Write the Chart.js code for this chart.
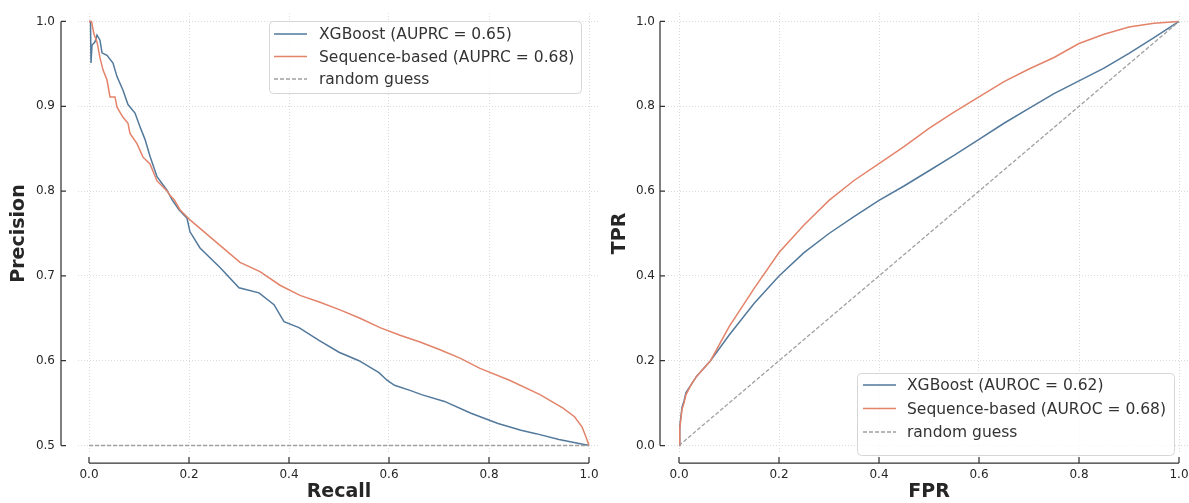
<!DOCTYPE html>
<html>
<head>
<meta charset="utf-8">
<script src="https://cdn.jsdelivr.net/npm/chart.js@4.4.1/dist/chart.umd.min.js"></script>
<style>
  body { margin: 0; background: #fff; width: 1189px; height: 503px; position: relative; overflow: hidden; }
  .box { position: absolute; top: 0; height: 503px; }
  #prBox { left: 0; width: 615px; }
  #rocBox { left: 600px; width: 600px; }
</style>
</head>
<body>
<div class="box" id="prBox"><canvas id="prChart"></canvas></div>
<div class="box" id="rocBox"><canvas id="rocChart"></canvas></div>
<script>
// precision-recall curves
const prXgbRecall = [0, 0.003, 0.004, 0.006, 0.012, 0.016, 0.022, 0.026, 0.036, 0.048, 0.056, 0.068, 0.078, 0.092, 0.102, 0.112, 0.122, 0.136, 0.156, 0.166, 0.18, 0.196, 0.202, 0.222, 0.262, 0.3, 0.34, 0.37, 0.39, 0.42, 0.46, 0.5, 0.54, 0.58, 0.596, 0.611, 0.642, 0.665, 0.711, 0.764, 0.818, 0.864, 0.894, 0.94, 1.0];
const prXgbPrecision = [1.0, 1.0, 0.951, 0.972, 0.976, 0.984, 0.978, 0.963, 0.96, 0.951, 0.935, 0.919, 0.902, 0.892, 0.876, 0.861, 0.841, 0.817, 0.801, 0.79, 0.778, 0.768, 0.752, 0.733, 0.71, 0.686, 0.68, 0.666, 0.646, 0.639, 0.624, 0.61, 0.6, 0.586, 0.577, 0.571, 0.565, 0.56, 0.552, 0.538, 0.526, 0.518, 0.514, 0.507, 0.5];
const prSeqRecall = [0, 0.005, 0.01, 0.016, 0.022, 0.028, 0.036, 0.042, 0.052, 0.056, 0.068, 0.078, 0.082, 0.096, 0.108, 0.122, 0.136, 0.156, 0.162, 0.17, 0.182, 0.202, 0.222, 0.262, 0.302, 0.342, 0.382, 0.422, 0.462, 0.502, 0.542, 0.582, 0.622, 0.662, 0.702, 0.742, 0.782, 0.841, 0.902, 0.948, 0.971, 0.986, 0.994, 1.0];
const prSeqPrecision = [1.0, 1.0, 0.985, 0.976, 0.957, 0.943, 0.931, 0.911, 0.911, 0.899, 0.887, 0.88, 0.868, 0.856, 0.84, 0.832, 0.812, 0.8, 0.795, 0.79, 0.778, 0.766, 0.756, 0.736, 0.716, 0.705, 0.689, 0.677, 0.669, 0.66, 0.65, 0.639, 0.63, 0.622, 0.613, 0.603, 0.591, 0.577, 0.56, 0.544, 0.534, 0.522, 0.51, 0.5];
const prGuessX = [0, 1];
const prGuessY = [0.5, 0.5];

// ROC curves
const rocXgbFpr = [0, 0.0015, 0.006, 0.01, 0.014, 0.025, 0.035, 0.063, 0.1, 0.15, 0.2, 0.25, 0.3, 0.35, 0.4, 0.45, 0.5, 0.55, 0.6, 0.65, 0.7, 0.75, 0.8, 0.85, 0.9, 0.95, 1.0];
const rocXgbTpr = [0, 0.045, 0.09, 0.105, 0.125, 0.145, 0.163, 0.2, 0.26, 0.335, 0.4, 0.455, 0.5, 0.54, 0.578, 0.612, 0.648, 0.684, 0.722, 0.76, 0.795, 0.83, 0.86, 0.89, 0.925, 0.962, 1.0];
const rocSeqFpr = [0, 0.0015, 0.006, 0.01, 0.014, 0.025, 0.035, 0.063, 0.1, 0.15, 0.2, 0.25, 0.3, 0.35, 0.4, 0.45, 0.5, 0.55, 0.6, 0.65, 0.7, 0.75, 0.8, 0.85, 0.9, 0.95, 1.0];
const rocSeqTpr = [0, 0.04, 0.085, 0.1, 0.12, 0.145, 0.163, 0.2, 0.28, 0.37, 0.455, 0.52, 0.578, 0.625, 0.665, 0.705, 0.748, 0.786, 0.822, 0.858, 0.888, 0.915, 0.948, 0.97, 0.987, 0.996, 1.0];
const rocGuessX = [0, 1];
const rocGuessY = [0, 1];

const prLabels = ["XGBoost (AUPRC = 0.65)", "Sequence-based (AUPRC = 0.68)", "random guess"];
const rocLabels = ["XGBoost (AUROC = 0.62)", "Sequence-based (AUROC = 0.68)", "random guess"];
const unitTicks = [0, 0.2, 0.4, 0.6, 0.8, 1.0];
const precisionTicks = [0.5, 0.6, 0.7, 0.8, 0.9, 1.0];

const FONT = "'DejaVu Sans', 'Liberation Sans', sans-serif";
const BLUE = "#52799b";
const ORANGE = "#e3836a";
const GREY = "#a0a0a0";
const INK = "#262626";

function points(xs, ys) {
  return xs.map((x, i) => ({ x: x, y: ys[i] }));
}

// offset, trimmed spines with inward ticks (seaborn despine look)
const spines = {
  id: "spines",
  afterDraw(chart, args, opts) {
    const { ctx } = chart;
    const x = chart.scales.x, y = chart.scales.y;
    ctx.save();
    ctx.strokeStyle = "#333";
    ctx.lineWidth = 1.25;
    ctx.beginPath();
    ctx.moveTo(opts.leftX, y.getPixelForValue(opts.yFrom));
    ctx.lineTo(opts.leftX, y.getPixelForValue(opts.yTo));
    for (const t of y.ticks) {
      const py = y.getPixelForValue(t.value);
      ctx.moveTo(opts.leftX, py);
      ctx.lineTo(opts.leftX + 5, py);
    }
    ctx.moveTo(x.getPixelForValue(0), opts.bottomY);
    ctx.lineTo(x.getPixelForValue(1), opts.bottomY);
    for (const t of x.ticks) {
      const px = x.getPixelForValue(t.value);
      ctx.moveTo(px, opts.bottomY);
      ctx.lineTo(px, opts.bottomY - 6);
    }
    ctx.stroke();
    ctx.restore();
  }
};

// matplotlib-like legend box inside the axes
const boxLegend = {
  id: "boxLegend",
  afterDraw(chart, args, opts) {
    const { ctx } = chart;
    const { left, top, width, height } = opts;
    ctx.save();
    ctx.beginPath();
    ctx.roundRect(left + 0.5, top + 0.5, width, height, 4);
    ctx.fillStyle = "rgba(255,255,255,0.8)";
    ctx.fill();
    ctx.strokeStyle = "#d6d6d6";
    ctx.lineWidth = 1;
    ctx.stroke();
    ctx.font = "15.5px " + FONT;
    ctx.textBaseline = "middle";
    chart.data.datasets.forEach((ds, i) => {
      const ry = top + opts.firstRow + i * opts.rowGap;
      ctx.beginPath();
      ctx.setLineDash(ds.borderDash || []);
      ctx.strokeStyle = ds.borderColor;
      ctx.lineWidth = ds.borderWidth;
      ctx.moveTo(left + opts.handleX, ry);
      ctx.lineTo(left + opts.handleX + 33, ry);
      ctx.stroke();
      ctx.setLineDash([]);
      ctx.fillStyle = "#333";
      ctx.fillText(ds.label, left + opts.textX, ry + 1);
    });
    ctx.restore();
  }
};

function makeChart(id, cfg) {
  const tickFont = { family: FONT, size: 12 };
  const titleFont = { family: FONT, size: 19, weight: "bold" };
  // invisible tick marks are used only to push the labels away from the plot area
  const hiddenTick = "rgba(0,0,0,0)";
  return new Chart(document.getElementById(id), {
    type: "scatter",
    data: {
      datasets: [
        { label: cfg.labels[0], data: cfg.series[0], borderColor: BLUE, borderWidth: 1.5, order: 2 },
        { label: cfg.labels[1], data: cfg.series[1], borderColor: ORANGE, borderWidth: 1.5, order: 1 },
        { label: cfg.labels[2], data: cfg.series[2], borderColor: GREY, borderWidth: 1.3, borderDash: [4, 2], order: 0 }
      ].map(d => Object.assign(d, { showLine: true, pointRadius: 0, tension: 0, fill: false }))
    },
    options: {
      responsive: true,
      maintainAspectRatio: false,
      animation: false,
      events: [],
      layout: { padding: cfg.padding },
      plugins: {
        legend: { display: false },
        tooltip: { enabled: false },
        spines: cfg.spines,
        boxLegend: cfg.legend
      },
      scales: {
        x: {
          type: "linear",
          min: -0.022, max: 1.022,
          afterFit: s => { s.height = 49; },
          afterBuildTicks: s => { s.ticks = unitTicks.map(v => ({ value: v })); },
          grid: { color: "#d2d2d2", lineWidth: 0.8, drawTicks: true, tickLength: 14, tickColor: hiddenTick },
          border: { display: false, dash: [1, 2] },
          ticks: { padding: 0, color: INK, font: tickFont, maxRotation: 0, autoSkip: false, callback: v => v.toFixed(1) },
          title: { display: true, text: cfg.xTitle, color: INK, font: titleFont, padding: { top: 0, bottom: 0 } }
        },
        y: {
          type: "linear",
          min: cfg.yMin, max: cfg.yMax,
          afterFit: s => { s.width = cfg.yWidth; },
          afterBuildTicks: s => { s.ticks = cfg.yTicks.map(v => ({ value: v })); },
          grid: { color: "#d2d2d2", lineWidth: 0.8, drawTicks: true, tickLength: cfg.yTickPad, tickColor: hiddenTick },
          border: { display: false, dash: [1, 2] },
          ticks: { padding: 0, color: INK, font: tickFont, autoSkip: false, callback: v => v.toFixed(1) },
          title: { display: true, text: cfg.yTitle, color: INK, font: titleFont, padding: { top: cfg.yTitlePad, bottom: 0 } }
        }
      }
    },
    plugins: [spines, boxLegend]
  });
}

makeChart("prChart", {
  labels: prLabels,
  series: [points(prXgbRecall, prXgbPrecision), points(prSeqRecall, prSeqPrecision), points(prGuessX, prGuessY)],
  padding: { left: 0, right: 15, top: 13, bottom: 0 },
  yMin: 0.49, yMax: 1.01, yTicks: precisionTicks, yWidth: 78, yTickPad: 23, yTitlePad: 8,
  xTitle: "Recall", yTitle: "Precision",
  spines: { leftX: 61, bottomY: 463, yFrom: 0.5, yTo: 1.0 },
  legend: { left: 269, top: 21, width: 312, height: 72, handleX: 5, textX: 50, firstRow: 13, rowGap: 22.5 }
});

makeChart("rocChart", {
  labels: rocLabels,
  series: [points(rocXgbFpr, rocXgbTpr), points(rocSeqFpr, rocSeqTpr), points(rocGuessX, rocGuessY)],
  padding: { left: 0, right: 10, top: 13, bottom: 0 },
  yMin: -0.02, yMax: 1.02, yTicks: unitTicks, yWidth: 68, yTickPad: 13, yTitlePad: 9,
  xTitle: "FPR", yTitle: "TPR",
  spines: { leftX: 60, bottomY: 463, yFrom: 0, yTo: 1.0 },
  legend: { left: 257, top: 373, width: 317, height: 82, handleX: 6, textX: 50, firstRow: 12, rowGap: 23.5 }
});
</script>
</body>
</html>
